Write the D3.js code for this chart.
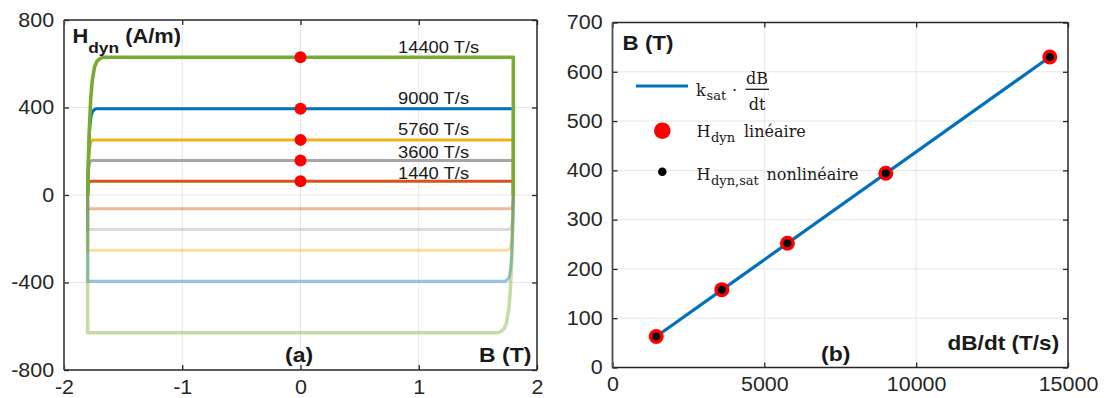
<!DOCTYPE html>
<html><head><meta charset="utf-8">
<script src="https://cdn.jsdelivr.net/npm/d3@7"></script>
<style>body{margin:0;background:#fff} svg{display:block}</style>
</head><body>
<svg id="c" width="1104" height="398"></svg>
<script>
// ---------- data ----------
const rates = [1440, 3600, 5760, 9000, 14400];                 // dB/dt (T/s)
const hDynLin = [63, 158, 252, 394, 630];                      // H_dyn linéaire (A/m)
const hDynSat = [63, 158, 252, 394, 630];                      // H_dyn,sat nonlinéaire (A/m)
const rateLabels = ["1440 T/s", "3600 T/s", "5760 T/s", "9000 T/s", "14400 T/s"];
const bSat = [-1.8, 1.8];                                      // loop B extent (T)
const kneeWidth = [0.03, 0.04, 0.05, 0.07, 0.13];              // B span of rounded rise, per rate
const kneeP = [0, 0.05, 0.1, 0.2, 0.3, 0.45, 0.6, 0.8, 1];     // fraction of knee span
const kneeF = [0, 0.26, 0.45, 0.70, 0.83, 0.93, 0.97, 0.99, 1]; // fraction of H reached
const fitX = [1440, 14400];
const fitY = [63, 630];
const leftXTicks = [-2, -1, 0, 1, 2];
const leftYTicks = [-800, -400, 0, 400, 800];
const rightXTicks = [0, 5000, 10000, 15000];
const rightYTicks = [0, 100, 200, 300, 400, 500, 600, 700];

// ---------- style ----------
const seriesColors = ["#D95319", "#A6A6A6", "#EDB120", "#0072BD", "#77AC30"];
const labelDy = [2, 2, 5, 4.5, 4.5];
const SANS = "'Liberation Sans', Arial, sans-serif";
const SERIF = "'DejaVu Serif', serif";
const AX = "#262626", AXL = "#4d4d4d", GRID = "#e6e6e6";

const svg = d3.select("#c");

const xa = d3.scaleLinear([-2, 2], [64, 537]);
const ya = d3.scaleLinear([-800, 800], [370, 20]);
const xb = d3.scaleLinear([0, 15000], [612.5, 1068]);
const yb = d3.scaleLinear([0, 700], [367.5, 22.5]);

function stext(parent, x, y, sx) {
  return parent.append("g").attr("transform", `translate(${x},${y}) scale(${sx},1)`).append("text");
}

function panel(x, y, xt, yt) {
  const g = svg.append("g");
  const grid = g.append("g");
  grid.selectAll(".gx").data(xt.filter(v => v !== x.domain()[0] && v !== x.domain()[1]))
    .join("line").attr("x1", d => x(d)).attr("x2", d => x(d))
    .attr("y1", y.range()[1]).attr("y2", y.range()[0]).attr("stroke", GRID).attr("stroke-width", 1);
  grid.selectAll(".gy").data(yt.filter(v => v !== y.domain()[0] && v !== y.domain()[1]))
    .join("line").attr("y1", d => y(d)).attr("y2", d => y(d))
    .attr("x1", x.range()[0]).attr("x2", x.range()[1]).attr("stroke", GRID).attr("stroke-width", 1);
  const marks = g.append("g");
  const top = g.append("g");
  return {g, marks, top};
}

const fmt = d => String(d);

function axes(g, x, y, xt, yt) {
  const [x0, x1] = x.range(), [y0, y1] = y.range();
  const styleAxis = sel => {
    sel.select(".domain").remove();
    sel.selectAll(".tick line").attr("stroke", AX).attr("stroke-width", 1.3);
    sel.selectAll(".tick text").attr("fill", AX).style("font-family", SANS).style("font-size", "19.5px")
      .attr("transform", "scale(1.1,1)");
  };
  g.append("g").attr("transform", `translate(0,${y0})`)
    .call(d3.axisBottom(x).tickValues(xt).tickSizeInner(-5).tickSizeOuter(0).tickPadding(10).tickFormat(fmt))
    .call(styleAxis);
  g.append("g").attr("transform", `translate(${x0},0)`)
    .call(d3.axisLeft(y).tickValues(yt).tickSizeInner(-5).tickSizeOuter(0).tickPadding(9).tickFormat(fmt))
    .call(styleAxis);
  g.append("g").attr("transform", `translate(0,${y1})`)
    .call(d3.axisTop(x).tickValues(xt).tickSizeInner(-5).tickSizeOuter(0).tickFormat(""))
    .call(styleAxis);
  g.append("g").attr("transform", `translate(${x1},0)`)
    .call(d3.axisRight(y).tickValues(yt).tickSizeInner(-5).tickSizeOuter(0).tickFormat(""))
    .call(styleAxis);
  // box
  g.append("line").attr("x1", x0).attr("x2", x1).attr("y1", y1).attr("y2", y1).attr("stroke", AX).attr("stroke-width", 1.5);
  g.append("line").attr("x1", x1).attr("x2", x1).attr("y1", y1).attr("y2", y0).attr("stroke", AX).attr("stroke-width", 1.5);
  g.append("line").attr("x1", x0).attr("x2", x1).attr("y1", y0).attr("y2", y0).attr("stroke", AX).attr("stroke-width", 1.5);
  g.append("line").attr("x1", x0).attr("x2", x0).attr("y1", y1).attr("y2", y0).attr("stroke", AXL).attr("stroke-width", 1.8);
}

// ---------- panel (a) ----------
const A = panel(xa, ya, leftXTicks, leftYTicks);
const line = d3.line().x(d => xa(d[0])).y(d => ya(d[1]));
rates.forEach((r, i) => {
  const H = hDynSat[i], w = kneeWidth[i];
  const up = kneeP.map((p, k) => [bSat[0] + p * w, H * kneeF[k]]).concat([[bSat[1], H], [bSat[1], 0]]);
  const down = kneeP.map((p, k) => [bSat[1] - p * w, -H * kneeF[k]]).concat([[bSat[0], -H], [bSat[0], 0]]);
  const sw = i === 4 ? 3.6 : 3;
  A.marks.append("path").attr("d", line(down)).attr("fill", "none")
    .attr("stroke", seriesColors[i]).attr("stroke-opacity", 0.42).attr("stroke-width", sw).attr("stroke-linejoin", "round");
  A.marks.append("path").attr("d", line(up)).attr("fill", "none")
    .attr("stroke", seriesColors[i]).attr("stroke-width", sw).attr("stroke-linejoin", "round");
});
A.marks.selectAll("circle.hd").data(hDynLin).join("circle")
  .attr("cx", xa(0)).attr("cy", d => ya(d)).attr("r", 6).attr("fill", "#ff0000");
rateLabels.forEach((t, i) => {
  stext(A.top, 398, ya(hDynLin[i]) - labelDy[i], 1.08).text(t)
    .style("font-family", SANS).style("font-size", "17px").attr("fill", "#1a1a1a");
});
axes(A.top, xa, ya, leftXTicks, leftYTicks);
{
  const t = stext(A.top, 72.5, 43.3, 1.12).style("font-family", SANS).style("font-weight", "bold").attr("fill", "#1a1a1a");
  t.append("tspan").text("H").style("font-size", "19.5px");
  t.append("tspan").text("dyn").style("font-size", "15.5px").attr("dy", 10);
  t.append("tspan").text(" (A/m)").style("font-size", "19.5px").attr("dy", -10);
  stext(A.top, 285, 361.5, 1.15).text("(a)").style("font-family", SANS).style("font-weight", "bold").style("font-size", "20px").attr("fill", "#1a1a1a");
  stext(A.top, 479, 361.5, 1.15).text("B (T)").style("font-family", SANS).style("font-weight", "bold").style("font-size", "20px").attr("fill", "#1a1a1a");
}

// ---------- panel (b) ----------
const B = panel(xb, yb, rightXTicks, rightYTicks);
B.marks.append("path")
  .attr("d", d3.line().x(d => xb(d[0])).y(d => yb(d[1]))(fitX.map((v, i) => [v, fitY[i]])))
  .attr("stroke", "#0072BD").attr("stroke-width", 3.2).attr("fill", "none");
B.marks.selectAll("circle.lin").data(rates).join("circle")
  .attr("cx", d => xb(d)).attr("cy", (d, i) => yb(hDynLin[i])).attr("r", 7.5).attr("fill", "#ff0000");
B.marks.selectAll("circle.sat").data(rates).join("circle")
  .attr("cx", d => xb(d)).attr("cy", (d, i) => yb(hDynSat[i])).attr("r", 4).attr("fill", "#000");
axes(B.top, xb, yb, rightXTicks, rightYTicks);
stext(B.top, 622.5, 50, 1.12).text("B (T)").style("font-family", SANS).style("font-weight", "bold").style("font-size", "20px").attr("fill", "#1a1a1a");
stext(B.top, 821, 361, 1.15).text("(b)").style("font-family", SANS).style("font-weight", "bold").style("font-size", "20px").attr("fill", "#1a1a1a");
stext(B.top, 947.5, 350, 1.13).text("dB/dt (T/s)").style("font-family", SANS).style("font-weight", "bold").style("font-size", "20px").attr("fill", "#1a1a1a");

// legend
const L = B.top.append("g").style("font-family", SERIF).attr("fill", "#1a1a1a");
L.append("line").attr("x1", 636).attr("x2", 688).attr("y1", 86).attr("y2", 86).attr("stroke", "#0072BD").attr("stroke-width", 3.2);
L.append("text").attr("x", 696).attr("y", 95.5).style("font-size", "16px").text("k");
L.append("text").attr("x", 706.5).attr("y", 100).style("font-size", "13px").text("sat");
L.append("text").attr("x", 732).attr("y", 95.5).style("font-size", "16px").text("·");
L.append("text").attr("x", 757).attr("y", 84).attr("text-anchor", "middle").style("font-size", "16px").text("dB");
L.append("line").attr("x1", 745.5).attr("x2", 769).attr("y1", 89.3).attr("y2", 89.3).attr("stroke", "#1a1a1a").attr("stroke-width", 1.3);
L.append("text").attr("x", 757).attr("y", 110).attr("text-anchor", "middle").style("font-size", "16px").text("dt");

L.append("circle").attr("cx", 662.3).attr("cy", 130.7).attr("r", 8.3).attr("fill", "#ff0000");
L.append("text").attr("x", 696.5).attr("y", 137.3).style("font-size", "16px").text("H");
L.append("text").attr("x", 711).attr("y", 141.5).style("font-size", "13px").text("dyn");
L.append("text").attr("x", 744).attr("y", 137.3).style("font-size", "16px").text("linéaire");

L.append("circle").attr("cx", 662.3).attr("cy", 171.7).attr("r", 4.3).attr("fill", "#000");
L.append("text").attr("x", 696.5).attr("y", 180).style("font-size", "16px").text("H");
L.append("text").attr("x", 711).attr("y", 184.5).style("font-size", "13px").text("dyn,sat");
L.append("text").attr("x", 766.5).attr("y", 180).style("font-size", "16px").text("nonlinéaire");
</script>
</body></html>
